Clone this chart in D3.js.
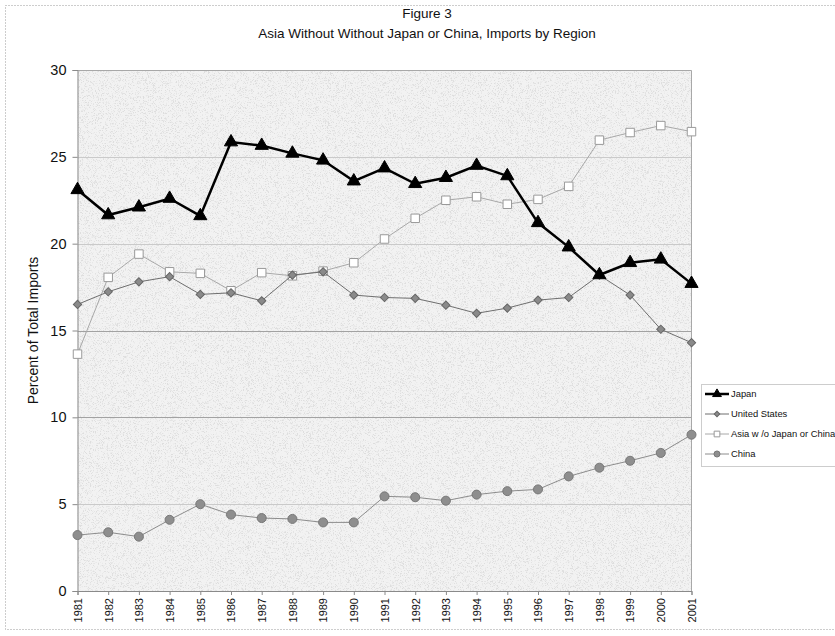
<!DOCTYPE html>
<html>
<head>
<meta charset="utf-8">
<script src="https://cdn.jsdelivr.net/npm/d3@7"></script>
<style>
  html, body { margin: 0; padding: 0; background: #fff; }
  svg { display: block; font-family: "Liberation Sans", Arial, sans-serif; }
</style>
</head>
<body>
<svg id="chart" width="835" height="636"></svg>
<script>
// Share of total imports by source region, 1981-2001 (percent)
const years = [1981, 1982, 1983, 1984, 1985, 1986, 1987, 1988, 1989, 1990,
               1991, 1992, 1993, 1994, 1995, 1996, 1997, 1998, 1999, 2000, 2001];
const japan = [23.1, 21.65, 22.1, 22.6, 21.6, 25.85, 25.65, 25.2, 24.8, 23.6,
               24.35, 23.45, 23.8, 24.5, 23.9, 21.2, 19.8, 18.2, 18.9, 19.1, 17.7];
const unitedStates = [16.5, 17.23, 17.8, 18.1, 17.08, 17.17, 16.71, 18.19, 18.38, 17.04,
                      16.9, 16.85, 16.46, 15.99, 16.29, 16.75, 16.9, 18.19, 17.04, 15.07, 14.3];
const asiaExJapanChina = [13.64, 18.06, 19.4, 18.38, 18.29, 17.29, 18.33, 18.15, 18.42, 18.9,
                          20.27, 21.46, 22.5, 22.7, 22.27, 22.55, 23.3, 25.96, 26.4, 26.8, 26.45];
const china = [3.22, 3.38, 3.13, 4.1, 5.0, 4.4, 4.2, 4.15, 3.95, 3.95,
               5.45, 5.4, 5.2, 5.55, 5.75, 5.85, 6.6, 7.1, 7.5, 7.95, 9.0];
const yTicks = [0, 5, 10, 15, 20, 25, 30];
const seriesNames = ["Japan", "United States", "Asia w /o Japan or China", "China"];
const titleLines = ["Figure 3", "Asia Without Without Japan or China, Imports by Region"];
const yAxisTitle = "Percent of Total Imports";

const svg = d3.select("#chart");
const plot = { left: 77.5, right: 691.5, top: 70, bottom: 591 };

const x = d3.scalePoint().domain(years).range([plot.left, plot.right]);
const y = d3.scaleLinear().domain([0, 30]).range([plot.bottom, plot.top]);

// outer chart frame
svg.append("rect")
  .attr("x", 5.5).attr("y", 5.5).attr("width", 840).attr("height", 624)
  .attr("fill", "none").attr("stroke", "#9a9a9a").attr("stroke-dasharray", "1,2");

// titles
svg.append("text").attr("x", 427).attr("y", 18).attr("text-anchor", "middle")
  .attr("font-size", 13.5).attr("fill", "#111").text(titleLines[0]);
svg.append("text").attr("x", 427).attr("y", 38).attr("text-anchor", "middle")
  .attr("font-size", 13.5).attr("fill", "#111").text(titleLines[1]);

// plot background with fine grain
const defs = svg.append("defs");
const grain = defs.append("filter").attr("id", "grain")
  .attr("x", 0).attr("y", 0).attr("width", 1).attr("height", 1);
grain.append("feTurbulence").attr("type", "fractalNoise")
  .attr("baseFrequency", 1.4).attr("numOctaves", 2).attr("seed", 5).attr("result", "noise");
grain.append("feColorMatrix").attr("in", "noise").attr("type", "matrix")
  .attr("values", "0 0 0 0 0.6  0 0 0 0 0.6  0 0 0 0 0.6  6 0 0 0 -3.2");
grain.append("feComposite").attr("in2", "SourceGraphic").attr("operator", "in");

svg.append("rect")
  .attr("x", plot.left).attr("y", plot.top)
  .attr("width", plot.right - plot.left).attr("height", plot.bottom - plot.top)
  .attr("fill", "#f2f2f2");
svg.append("rect")
  .attr("x", plot.left).attr("y", plot.top)
  .attr("width", plot.right - plot.left).attr("height", plot.bottom - plot.top)
  .attr("fill", "#fff").attr("filter", "url(#grain)").attr("opacity", 0.5);

// horizontal gridlines
svg.append("g").selectAll("line")
  .data(yTicks.filter(t => t > 0 && t < 30))
  .join("line")
  .attr("x1", plot.left).attr("x2", plot.right)
  .attr("y1", d => Math.round(y(d)) + 0.5).attr("y2", d => Math.round(y(d)) + 0.5)
  .attr("stroke", d => (d === 10 || d === 15) ? "#a2a2a2" : "#cacaca")
  .attr("stroke-width", 1);

// plot frame: top and right edges
svg.append("path")
  .attr("d", `M${plot.left},${plot.top + 0.5}H${plot.right}V${plot.bottom}`)
  .attr("fill", "none").attr("stroke", "#a8a8a8").attr("stroke-width", 1);

// y axis
const yAxis = d3.axisLeft(y).tickValues(yTicks).tickSize(5).tickPadding(6);
const gy = svg.append("g").attr("transform", `translate(${plot.left},0)`).call(yAxis);
gy.select(".domain").attr("stroke", "#8a8a8a");
gy.selectAll(".tick line").attr("stroke", "#8a8a8a");
gy.selectAll(".tick text").attr("font-size", 14.5).attr("fill", "#111")
  .attr("font-family", "Liberation Sans, Arial, sans-serif");

// x axis
const xAxis = d3.axisBottom(x).tickSize(4).tickPadding(3);
const gx = svg.append("g").attr("transform", `translate(0,${plot.bottom})`).call(xAxis);
gx.select(".domain").attr("stroke", "#8a8a8a");
gx.selectAll(".tick line").attr("stroke", "#8a8a8a");
gx.selectAll(".tick text")
  .attr("font-size", 11).attr("fill", "#111")
  .attr("font-family", "Liberation Sans, Arial, sans-serif")
  .attr("transform", "rotate(-90)")
  .attr("text-anchor", "end")
  .attr("x", -7).attr("y", 0).attr("dy", "0.35em");

// y axis title
svg.append("text")
  .attr("transform", `translate(38,${(plot.top + plot.bottom) / 2}) rotate(-90)`)
  .attr("text-anchor", "middle").attr("font-size", 14).attr("fill", "#111")
  .text(yAxisTitle);

// series styling
const series = [
  { name: seriesNames[0], values: japan, line: "#000", width: 2.5, marker: "triangle", fill: "#000", stroke: "#000", size: 75, rot: 0 },
  { name: seriesNames[1], values: unitedStates, line: "#6e6e6e", width: 1, marker: "square", fill: "#8a8a8a", stroke: "#666", size: 34, rot: 45 },
  { name: seriesNames[2], values: asiaExJapanChina, line: "#a8a8a8", width: 1, marker: "square", fill: "#fff", stroke: "#999", size: 72, rot: 0 },
  { name: seriesNames[3], values: china, line: "#8c8c8c", width: 1, marker: "circle", fill: "#8e8e8e", stroke: "#777", size: 64, rot: 0 }
];
const symbolType = {
  triangle: d3.symbolTriangle, square: d3.symbolSquare, circle: d3.symbolCircle
};

const line = d3.line().x((d, i) => x(years[i])).y(d => y(d));

// draw back-to-front: China, Asia, US, Japan
const drawOrder = [3, 2, 1, 0];
drawOrder.forEach(k => {
  const s = series[k];
  const g = svg.append("g");
  g.append("path").datum(s.values)
    .attr("d", line).attr("fill", "none")
    .attr("stroke", s.line).attr("stroke-width", s.width)
    .attr("stroke-linejoin", "miter");
  g.selectAll("path.m").data(s.values).join("path")
    .attr("class", "m")
    .attr("transform", (d, i) => `translate(${x(years[i])},${y(d)}) rotate(${s.rot})`)
    .attr("d", d3.symbol().type(symbolType[s.marker]).size(s.size))
    .attr("fill", s.fill).attr("stroke", s.stroke).attr("stroke-width", 1);
});

// legend
const legend = svg.append("g");
legend.append("rect")
  .attr("x", 701.5).attr("y", 384.5).attr("width", 150).attr("height", 82)
  .attr("fill", "#fff").attr("stroke", "#9a9a9a").attr("stroke-dasharray", "1,1");
const legendRows = [394, 414, 434, 454];
series.forEach((s, k) => {
  const row = legend.append("g").attr("transform", `translate(0,${legendRows[k]})`);
  row.append("line").attr("x1", 705).attr("x2", 729).attr("y1", 0).attr("y2", 0)
    .attr("stroke", s.line).attr("stroke-width", s.width);
  row.append("path").attr("transform", `translate(717,0) rotate(${s.rot})`)
    .attr("d", d3.symbol().type(symbolType[s.marker]).size(s.size * 0.45))
    .attr("fill", s.fill).attr("stroke", s.stroke).attr("stroke-width", 1);
  row.append("text").attr("x", 731).attr("y", 0).attr("dy", "0.35em")
    .attr("font-size", 9.4).attr("fill", "#111").text(s.name);
});
</script>
</body>
</html>
